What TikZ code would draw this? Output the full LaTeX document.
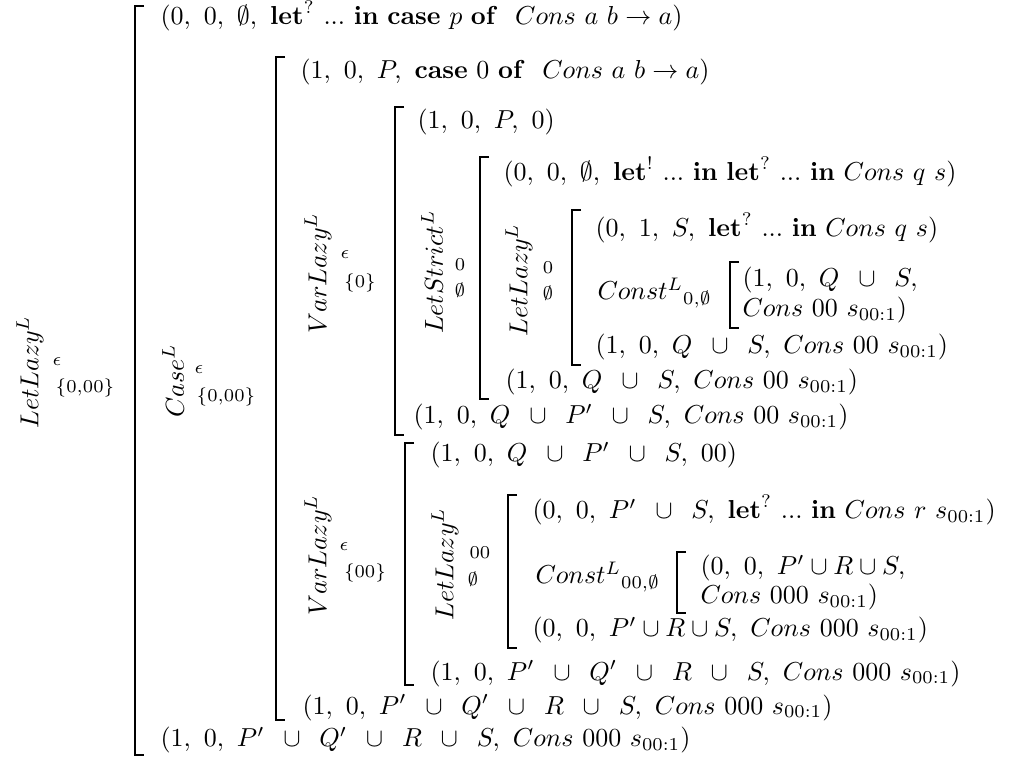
\documentclass[tikz,border=0pt]{standalone}
\usepackage{amsmath,amssymb}
\newcommand{\mybrk}[4]{% name, x, top, bottom
  \coordinate (#1t) at (#2,#3);
  \coordinate (#1b) at (#2,#4);
  \draw[brk] ($(#1t)+(9,0)$) -- (#1t) -- (#1b) -- ($(#1b)+(9,0)$);}
\newcommand{\wcup}{\ \,\cup\,\ }
\usetikzlibrary{calc}
\begin{document}
\begin{tikzpicture}[x=0.385pt,y=-0.385pt,
  txt/.style={anchor=base west,inner sep=0pt},
  rot/.style={rotate=90,inner sep=0pt},
  scr/.style={inner sep=0pt},
  brk/.style={line width=0.65pt,line cap=butt,line join=miter}]
\useasboundingbox (0,0) rectangle (1012,763);
% brackets
\mybrk{b1}{135}{6}{755}
\mybrk{b2}{276}{57}{720}
\mybrk{b3}{395}{107}{435}
\mybrk{b4}{480}{157}{399}
\mybrk{b5}{572}{210}{365}
\mybrk{b6}{730}{262}{328}
\mybrk{b7}{405}{443}{685}
\mybrk{b8}{508}{495}{648}
\mybrk{b9}{677}{552}{613}
% rule labels
\node[rot] (r1) at (30,372) {$LetLazy^{L}$};
\node[scr] (r1a) at (57,362) {$\scriptstyle\epsilon$};
\node[scr] (r1b) at (85,388) {$\scriptstyle\{0,00\}$};
\node[rot] (r2) at (173,381) {$Case^{L}$};
\node[scr] (r2a) at (199,370) {$\scriptstyle\epsilon$};
\node[scr] (r2b) at (226,397) {$\scriptstyle\{0,00\}$};
\node[rot] (r3) at (318,273) {$VarLazy^{L}$};
\node[scr] (r3a) at (345,255) {$\scriptstyle\epsilon$};
\node[scr] (r3b) at (360,283) {$\scriptstyle\{0\}$};
\node[rot] (r4) at (432,272) {$LetStrict^{L}$};
\node[scr] (r4a) at (460,265) {$\scriptstyle 0$};
\node[scr] (r4b) at (460,290) {$\scriptstyle\emptyset$};
\node[rot] (r5) at (519,280) {$LetLazy^{L}$};
\node[scr] (r5a) at (548,268) {$\scriptstyle 0$};
\node[scr] (r5b) at (548,293) {$\scriptstyle\emptyset$};
\node[rot] (r7) at (318,555) {$VarLazy^{L}$};
\node[scr] (r7a) at (344,547) {$\scriptstyle\epsilon$};
\node[scr] (r7b) at (365,573) {$\scriptstyle\{00\}$};
\node[rot] (r8) at (445,564) {$LetLazy^{L}$};
\node[scr] (r8a) at (480,553) {$\scriptstyle 00$};
\node[scr] (r8b) at (473,579) {$\scriptstyle\emptyset$};
% texts (baseline = centre + 7)
\node[txt] (t1) at (160,25) {$(0,\ 0,\ \emptyset,\ \mathbf{let}^{?}\ ...\ \mathbf{in\ case}\ p\ \mathbf{of}\ \ Cons\ a\ b \rightarrow a)$};
\node[txt] (t2) at (300,79) {$(1,\ 0,\ P,\ \mathbf{case}\ 0\ \mathbf{of}\ \ Cons\ a\ b \rightarrow a)$};
\node[txt] (t3) at (417,129) {$(1,\ 0,\ P,\ 0)$};
\node[txt] (t4) at (503,181) {$(0,\ 0,\ \emptyset,\ \mathbf{let}^{!}\ ...\ \mathbf{in\ let}^{?}\ ...\ \mathbf{in}\ Cons\ q\ s)$};
\node[txt] (t5) at (595,237) {$(0,\ 1,\ S,\ \mathbf{let}^{?}\ ...\ \mathbf{in}\ Cons\ q\ s)$};
\node[txt] (c1) at (597,300) {${Const^{L}}_{0,\emptyset}$};
\node[txt] (t6) at (742,287) {$(1,\ 0,\ Q\wcup S,$};
\node[txt] (t7) at (742,317) {$Cons\ 00\ s_{00:1})$};
\node[txt] (t8) at (595,354) {$(1,\ 0,\ Q\wcup S,\ Cons\ 00\ s_{00:1})$};
\node[txt] (t9) at (505,389) {$(1,\ 0,\ Q\wcup S,\ Cons\ 00\ s_{00:1})$};
\node[txt] (t10) at (413,424) {$(1,\ 0,\ Q\wcup P'\wcup S,\ Cons\ 00\ s_{00:1})$};
\node[txt] (t11) at (430,462) {$(1,\ 0,\ Q\wcup P'\wcup S,\ 00)$};
\node[txt] (t12) at (532,519) {$(0,\ 0,\ P'\wcup S,\ \mathbf{let}^{?}\ ...\ \mathbf{in}\ Cons\ r\ s_{00:1})$};
\node[txt] (c2) at (535,584) {${Const^{L}}_{00,\emptyset}$};
\node[txt] (t13) at (700,575) {$(0,\ 0,\ P'\cup R\cup S,$};
\node[txt] (t14) at (700,604) {$Cons\ 000\ s_{00:1})$};
\node[txt] (t15) at (532,637) {$(0,\ 0,\ P'\cup R\cup S,\ Cons\ 000\ s_{00:1})$};
\node[txt] (t16) at (430,680) {$(1,\ 0,\ P'\wcup Q'\wcup R\wcup S,\ Cons\ 000\ s_{00:1})$};
\node[txt] (t17) at (302,714) {$(1,\ 0,\ P'\wcup Q'\wcup R\wcup S,\ Cons\ 000\ s_{00:1})$};
\node[txt] (t18) at (160,747) {$(1,\ 0,\ P'\wcup Q'\wcup R\wcup S,\ Cons\ 000\ s_{00:1})$};
\end{tikzpicture}
\end{document}
